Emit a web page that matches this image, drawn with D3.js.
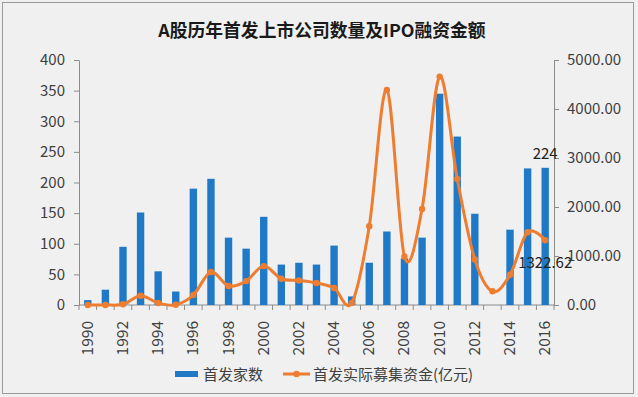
<!DOCTYPE html>
<html><head><meta charset="utf-8">
<script src="https://cdn.jsdelivr.net/npm/d3@7"></script>
<style>
html,body{margin:0;padding:0;background:#fff;}
svg{display:block;}
text{font-family:"Noto Sans CJK SC","Noto Sans",sans-serif;}
</style></head>
<body>
<svg id="c" width="638" height="397"></svg>
<script>
const title = "A股历年首发上市公司数量及IPO融资金额";
const years = ["1990","1991","1992","1993","1994","1995","1996","1997","1998","1999","2000","2001","2002","2003","2004","2005","2006","2007","2008","2009","2010","2011","2012","2013","2014","2015","2016"];
const ipoCount = [8,25,95,151,55,22,190,206,110,92,144,66,69,66,97,14,69,120,76,110,345,275,149,0,123,223,224];
const ipoFunds = [0,0,14,190,40,5,204,672,387,488,794,536,502,450,346,40,1608,4389,990,1961,4661,2571,929,280,617,1486,1322.62];
const leftTicks = [0,50,100,150,200,250,300,350,400];
const rightTicks = [0,1000,2000,3000,4000,5000];
const seriesNames = ["首发家数","首发实际募集资金(亿元)"];

const svg = d3.select("#c");
const W = 638, H = 397;
const m = {left:79, right:638-554, top:60, bottom:397-305};
const blue = "#2079C7", orange = "#ED7D31", txt = "#404040", axisC = "#8c8c8c";

svg.append("rect").attr("x",0).attr("y",0).attr("width",W).attr("height",H).attr("fill","#f0f0f0");
svg.append("rect").attr("x",2.5).attr("y",2.5).attr("width",631).attr("height",391)
  .attr("fill","none").attr("stroke","#9a9a9a").attr("stroke-width",1);

svg.append("text").attr("x",322).attr("y",37).attr("text-anchor","middle")
  .attr("font-size",17.8).attr("font-weight","bold").attr("fill","#1a1a1a").text(title);

const x = d3.scaleBand().domain(years).range([m.left, W-m.right]).paddingInner(0.58).paddingOuter(0.29);
const xc = d => x(d) + x.bandwidth()/2;
const yL = d3.scaleLinear().domain([0,400]).range([H-m.bottom, m.top]);
const yR = d3.scaleLinear().domain([0,5000]).range([H-m.bottom, m.top]);

// axes
const gL = svg.append("g").attr("transform",`translate(${m.left},0)`)
  .call(d3.axisLeft(yL).tickValues(leftTicks).tickSize(5).tickSizeOuter(0).tickPadding(9));
const gR = svg.append("g").attr("transform",`translate(${W-m.right},0)`)
  .call(d3.axisRight(yR).tickValues(rightTicks).tickFormat(d3.format(".2f")).tickSize(5).tickSizeOuter(0).tickPadding(8));
[gL,gR].forEach(g=>{
  g.select(".domain").attr("stroke",axisC);
  g.selectAll(".tick line").attr("stroke",axisC);
  g.selectAll(".tick text").attr("fill",txt).attr("font-size",15).attr("font-family",'"Noto Sans CJK SC",sans-serif');
});

// x axis
const gx = svg.append("g").attr("transform",`translate(0,${H-m.bottom})`);
gx.append("line").attr("x1",m.left).attr("x2",W-m.right).attr("stroke",axisC);
const bounds = d3.range(years.length+1).map(i => m.left + i*(W-m.left-m.right)/years.length);
gx.selectAll("line.t").data(bounds).join("line").attr("class","t")
  .attr("x1",d=>d).attr("x2",d=>d).attr("y1",0).attr("y2",5).attr("stroke",axisC);
gx.selectAll("text").data(years.filter((d,i)=>i%2===0)).join("text")
  .attr("transform",d=>`translate(${xc(d)+5},16) rotate(-90)`)
  .attr("text-anchor","end").attr("font-size",15.5).attr("fill",txt).text(d=>d);

// bars
svg.append("g").selectAll("rect").data(years).join("rect")
  .attr("x",d=>x(d)).attr("width",x.bandwidth())
  .attr("y",(d,i)=>yL(ipoCount[i])).attr("height",(d,i)=>yL(0)-yL(ipoCount[i]))
  .attr("fill",blue);

// line
const pts = years.map((d,i)=>[xc(d), yR(ipoFunds[i])]);
svg.append("path").datum(pts).attr("fill","none").attr("stroke",orange).attr("stroke-width",3)
  .attr("d", d3.line().curve(d3.curveCardinal.tension(0)));
svg.append("g").selectAll("circle").data(pts).join("circle")
  .attr("cx",d=>d[0]).attr("cy",d=>d[1]).attr("r",3.2).attr("fill",orange);

// data labels
const last = years.length-1;
svg.append("text").attr("x",xc(years[last])).attr("y",yL(ipoCount[last])-9).attr("text-anchor","middle")
  .attr("font-size",15).attr("fill","#222").text(ipoCount[last]);
svg.append("text").attr("x",xc(years[last])).attr("y",yR(ipoFunds[last])+28).attr("text-anchor","middle")
  .attr("font-size",15).attr("fill","#222").text(d3.format(".2f")(ipoFunds[last]));

// legend
const lg = svg.append("g");
lg.append("rect").attr("x",175).attr("y",371).attr("width",23).attr("height",6).attr("fill",blue);
lg.append("text").attr("x",203).attr("y",380).attr("font-size",15).attr("fill",txt).text(seriesNames[0]);
lg.append("line").attr("x1",283).attr("x2",310).attr("y1",374).attr("y2",374).attr("stroke",orange).attr("stroke-width",3);
lg.append("circle").attr("cx",296.5).attr("cy",374).attr("r",3.2).attr("fill",orange);
lg.append("text").attr("x",313).attr("y",380).attr("font-size",15).attr("fill",txt).text(seriesNames[1]);
</script>
</body></html>
